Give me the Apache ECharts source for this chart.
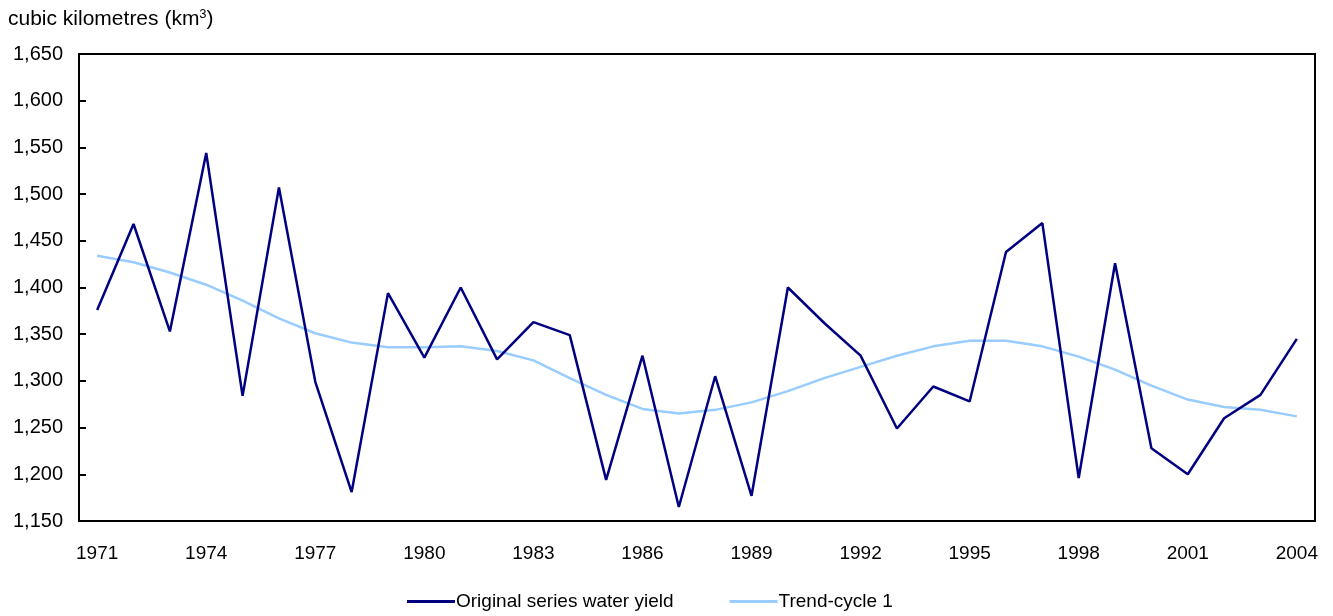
<!DOCTYPE html>
<html>
<head>
<meta charset="utf-8">
<script src="https://cdn.jsdelivr.net/npm/echarts@6/dist/echarts.min.js"></script>
<style>
  html, body { margin: 0; padding: 0; background: #fff; }
  #chart { width: 1333px; height: 616px; }
</style>
</head>
<body>
<div id="chart"></div>
<script>
// years on the x axis
var years = [];
for (var y = 1971; y <= 2004; y++) years.push(String(y));

// original series water yield (km3)
var originalSeries = [
  1376, 1468, 1353, 1544, 1284, 1507, 1299, 1181, 1394, 1325,
  1400, 1323, 1363, 1349, 1194, 1327, 1165, 1305, 1177, 1400,
  1362, 1327, 1249, 1294, 1278, 1438, 1469, 1196, 1426, 1228,
  1200, 1260, 1285, 1345
];

// trend-cycle 1 (km3)
var trendCycle = [
  1434, 1427, 1416, 1403, 1386, 1367, 1351, 1341, 1336, 1336,
  1337, 1332, 1322, 1303, 1285, 1270, 1265, 1269, 1277, 1289,
  1303, 1315, 1327, 1337, 1343, 1343, 1337, 1326, 1312, 1295,
  1280, 1272, 1269, 1262
];

var seriesNames = ["Original series water yield", "Trend-cycle 1"];

var font = "Liberation Sans, Arial, Helvetica, sans-serif";

var myChart = echarts.init(document.getElementById("chart"));
var option = {
  animation: false,
  textStyle: { fontFamily: font },
  title: {
    text: "cubic kilometres (km{sup|3})",
    left: 3,
    top: 3,
    textStyle: {
      fontSize: 21,
      fontWeight: "normal",
      color: "#000",
      fontFamily: font,
      rich: {
        sup: { fontSize: 13, verticalAlign: "top", padding: [0, 0, 10, 0], color: "#000", fontFamily: font }
      }
    }
  },
  legend: {
    data: seriesNames,
    top: 587,
    left: 402,
    itemWidth: 48,
    itemHeight: 3,
    itemGap: 56,
    icon: "rect",
    textStyle: { color: "#000", fontSize: 19, padding: [0, 0, 0, -4], fontFamily: font }
  },
  grid: {
    left: 79,
    right: 18,
    top: 54,
    bottom: 95,
    show: true,
    borderColor: "#000",
    borderWidth: 2
  },
  xAxis: {
    type: "category",
    data: years,
    boundaryGap: true,
    axisLine: { lineStyle: { color: "#000", width: 2 } },
    axisTick: { inside: true, length: 7, interval: 0, lineStyle: { color: "#000", width: 2 } },
    axisLabel: { interval: 2, color: "#000", fontSize: 19, margin: 23, fontFamily: font },
    splitLine: { show: false }
  },
  yAxis: {
    type: "value",
    min: 1150,
    max: 1650,
    interval: 50,
    axisLine: { show: true, lineStyle: { color: "#000", width: 2 } },
    axisTick: { show: true, inside: true, length: 7, lineStyle: { color: "#000", width: 2 } },
    axisLabel: {
      color: "#000",
      fontSize: 20,
      margin: 16,
      fontFamily: font,
      formatter: function (v) { return v.toLocaleString("en-US"); }
    },
    splitLine: { show: false }
  },
  series: [
    {
      name: seriesNames[0],
      type: "line",
      data: originalSeries,
      symbol: "none",
      lineStyle: { color: "#000080", width: 2.5 },
      itemStyle: { color: "#000080" },
      z: 3
    },
    {
      name: seriesNames[1],
      type: "line",
      data: trendCycle,
      symbol: "none",
      lineStyle: { color: "#99CCFF", width: 2.5 },
      itemStyle: { color: "#99CCFF" },
      z: 2
    }
  ]
};
myChart.setOption(option, true);
</script>
</body>
</html>
